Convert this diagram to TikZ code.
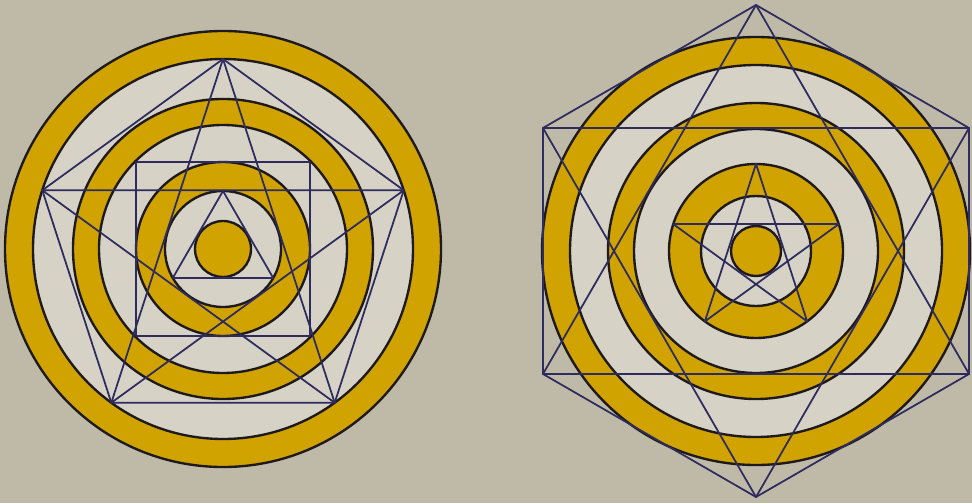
\documentclass[tikz,border=0pt]{standalone}
\usepackage{xcolor}
\usetikzlibrary{calc}

\definecolor{paper}{HTML}{BFBAA7}
\definecolor{pale}{HTML}{D6D2C6}
\definecolor{gold}{HTML}{D0A300}
\definecolor{ink}{HTML}{2E2C5E}
\definecolor{rim}{HTML}{1E1A1C}

\begin{document}
\begin{tikzpicture}[x=0.02cm, y=-0.02cm,
    ring/.style={draw=rim, line width=1.35pt},
    figline/.style={draw=ink, line width=1pt, line join=round}]
  \useasboundingbox (0,0) rectangle (972,503);
  \fill[paper] (0,0) rectangle (972,503);

  % left: circles, pentagon with star, square, triangle
  \coordinate (lc) at (223,249);
  \foreach \r/\c in {218/gold, 190/pale, 150/gold, 124/pale, 87/gold, 58/pale, 28/gold} {
    \fill[\c] (lc) circle (\r);
  }
  \foreach \r in {218, 190, 150, 124, 87, 58, 28} {
    \draw[ring] (lc) circle (\r);
  }
  \foreach \k in {0,...,4} {
    \coordinate (lp\k) at ($(lc)+(-90+72*\k:190)$);
  }
  \draw[figline] (lp0) -- (lp1) -- (lp2) -- (lp3) -- (lp4) -- cycle;
  \draw[figline] (lp0) -- (lp2) -- (lp4) -- (lp1) -- (lp3) -- cycle;
  \draw[figline] ($(lc)+(-87,-87)$) rectangle ($(lc)+(87,87)$);
  \foreach \k in {0,1,2} {
    \coordinate (lt\k) at ($(lc)+(-90+120*\k:58)$);
  }
  \draw[figline] (lt0) -- (lt1) -- (lt2) -- cycle;

  % right: circles, hexagon with hexagram, small star
  \coordinate (rc) at (756,251);
  \foreach \r/\c in {214/gold, 186/pale, 148/gold, 122/pale, 87/gold, 55/pale, 25/gold} {
    \fill[\c] (rc) circle (\r);
  }
  \foreach \r in {214, 186, 148, 122, 87, 55, 25} {
    \draw[ring] (rc) circle (\r);
  }
  \foreach \k in {0,...,5} {
    \coordinate (rh\k) at ($(rc)+(-90+60*\k:246)$);
  }
  \draw[figline] (rh0) -- (rh1) -- (rh2) -- (rh3) -- (rh4) -- (rh5) -- cycle;
  \draw[figline] (rh0) -- (rh2) -- (rh4) -- cycle;
  \draw[figline] (rh1) -- (rh3) -- (rh5) -- cycle;
  \foreach \k in {0,...,4} {
    \coordinate (rp\k) at ($(rc)+(-90+72*\k:87)$);
  }
  \draw[figline] (rp0) -- (rp2) -- (rp4) -- (rp1) -- (rp3) -- cycle;
\end{tikzpicture}
\end{document}
